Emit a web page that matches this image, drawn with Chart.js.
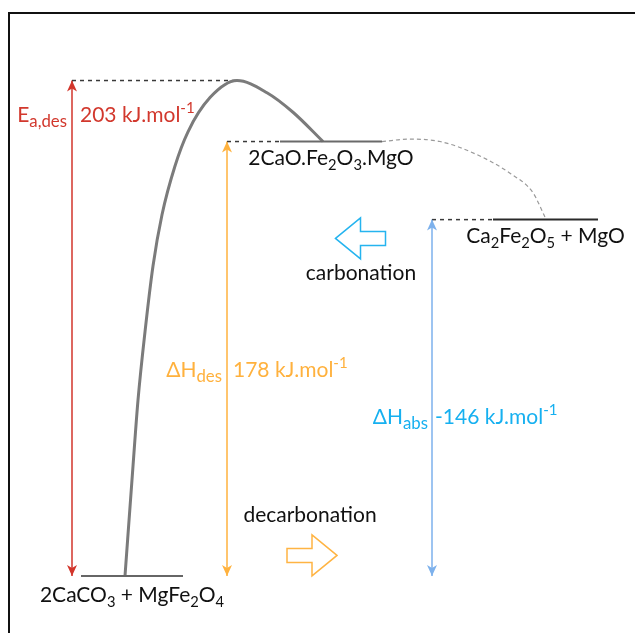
<!DOCTYPE html>
<html>
<head>
<meta charset="utf-8">
<script src="https://cdn.jsdelivr.net/npm/chart.js@4/dist/chart.umd.min.js"></script>
<style>
html, body { margin: 0; padding: 0; background: #fff; }
canvas { display: block; }
</style>
</head>
<body>
<canvas id="energy" width="635" height="633"></canvas>
<script>
// enthalpy levels, kJ/mol relative to 2CaCO3 + MgFe2O4
const levelNames = ["2CaCO3 + MgFe2O4", "2CaO.Fe2O3.MgO", "Ca2Fe2O5 + MgO"];
const levelEnergy = [0, 178, 146];
const levelFrom = [81, 280, 493];   // reaction coordinate
const levelTo = [183, 382, 598];
const levelColors = ["#666666", "#6a6a6a", "#2a2a2a"];

const activationEnergy = 203;
const deltaHdes = 178;
const deltaHabs = -146;

// decarbonation path over the barrier
const pathX = [125, 133, 138, 145, 153, 162, 175, 188, 210, 237, 267, 293, 323];
const pathE = [0, 45, 72, 100, 127, 148, 168, 182, 196, 203, 198, 190, 178];

// carbonation path back down to Ca2Fe2O5
const carbX = [382, 410, 440, 475, 510, 533, 545];
const carbE = [178, 179, 178, 173, 165, 157, 147];

// where the energy arrows stand on the reaction coordinate
const arrowX = [72, 227, 432];
const arrowTop = [activationEnergy, deltaHdes, Math.abs(deltaHabs)];
const arrowColors = ["#d2352b", "#ffb23e", "#7db1ec"];
const peakX = 237;

const FONT = "Lato, 'DejaVu Sans', sans-serif";
const SIZE = 21;

function pts(xs, ys) { return xs.map((x, i) => ({ x: x, y: ys[i] })); }

const datasets = [];
levelEnergy.forEach((e, i) => {
  datasets.push({
    data: [{ x: levelFrom[i], y: e }, { x: levelTo[i], y: e }],
    borderColor: levelColors[i], borderWidth: 2
  });
});
datasets.push({ data: pts(pathX, pathE), borderColor: "#7b7b7b", borderWidth: 3,
  cubicInterpolationMode: "monotone" });
datasets.push({ data: pts(carbX, carbE), borderColor: "#9a9a9a", borderWidth: 1.2,
  borderDash: [4, 3], cubicInterpolationMode: "monotone" });
// dashed guides from each arrow tip over to its level
const guideEnd = [peakX, levelFrom[1], levelFrom[2]];
arrowX.forEach((x, i) => {
  datasets.push({ data: [{ x: x, y: arrowTop[i] }, { x: guideEnd[i], y: arrowTop[i] }],
    borderColor: "#3a3a3a", borderWidth: 1.5, borderDash: [4, 4] });
});
// arrow shafts
arrowX.forEach((x, i) => {
  datasets.push({ data: [{ x: x, y: 0 }, { x: x, y: arrowTop[i] }],
    borderColor: arrowColors[i], borderWidth: 1.5 });
});

// split "Ca2Fe2O5" style formulas into normal / subscript runs
function formula(s) {
  const parts = [];
  for (let i = 0; i < s.length; i++) {
    const ch = s[i];
    const sub = /[0-9]/.test(ch) && i > 0 && /[A-Za-z]/.test(s[i - 1]);
    const mode = sub ? 1 : 0;
    if (parts.length && parts[parts.length - 1][1] === mode) parts[parts.length - 1][0] += ch;
    else parts.push([ch, mode]);
  }
  return parts;
}

function runSize(mode, size, small) {
  return mode ? size * small : size;
}

function drawRich(c, parts, x, y, size, color, align, small) {
  small = small || 0.7;
  let w = 0;
  parts.forEach(p => {
    c.font = runSize(p[1], size, small) + "px " + FONT;
    w += c.measureText(p[0]).width;
  });
  let cx = align === "right" ? x - w : align === "center" ? x - w / 2 : x;
  c.fillStyle = color;
  c.textBaseline = "alphabetic";
  c.textAlign = "left";
  parts.forEach(p => {
    c.font = runSize(p[1], size, small) + "px " + FONT;
    const dy = p[1] === 1 ? size * 0.26 : p[1] === 2 ? -size * 0.4 : 0;
    c.fillText(p[0], cx, y + dy);
    cx += c.measureText(p[0]).width;
  });
}

function arrowHead(c, x, y, dir, color) {
  c.fillStyle = color;
  c.beginPath();
  c.moveTo(x, y);
  c.lineTo(x - 5, y - dir * 11);
  c.lineTo(x, y - dir * 8);
  c.lineTo(x + 5, y - dir * 11);
  c.closePath();
  c.fill();
}

function blockArrow(c, cx, cy, dir, color) {
  // outlined fat arrow, dir = 1 points right, -1 points left
  const hw = 25, hh = 20.5, sh = 7, head = 25;
  const tip = cx + dir * hw, tail = cx - dir * hw, base = tip - dir * head;
  c.strokeStyle = color;
  c.lineWidth = 1.5;
  c.beginPath();
  c.moveTo(tip, cy);
  c.lineTo(base, cy - hh);
  c.lineTo(base, cy - sh);
  c.lineTo(tail, cy - sh);
  c.lineTo(tail, cy + sh);
  c.lineTo(base, cy + sh);
  c.lineTo(base, cy + hh);
  c.closePath();
  c.stroke();
}

const decorations = {
  id: "decorations",
  afterDatasetsDraw(chart) {
    const c = chart.ctx;
    const px = v => chart.scales.x.getPixelForValue(v);
    const py = v => chart.scales.y.getPixelForValue(v);
    c.save();

    // frame
    c.strokeStyle = "#111";
    c.lineWidth = 2;
    c.strokeRect(9, 13, 700, 700);

    // arrow heads on both ends
    arrowX.forEach((x, i) => {
      arrowHead(c, px(x), py(arrowTop[i]), -1, arrowColors[i]);
      arrowHead(c, px(x), py(0), 1, arrowColors[i]);
    });

    // level names, centred under each level
    const nameDrop = [26, 23, 23];
    levelNames.forEach((n, i) => {
      drawRich(c, formula(n), (px(levelFrom[i]) + px(levelTo[i])) / 2,
        py(levelEnergy[i]) + nameDrop[i], SIZE, "#111", "center", 0.7);
    });

    // activation energy
    const ax = px(arrowX[0]), aTop = py(activationEnergy);
    drawRich(c, [["E", 0], ["a,des", 1]], ax - 5, aTop + 41, SIZE, "#d2382d", "right", 0.8);
    drawRich(c, [[activationEnergy + " kJ.mol", 0], ["-1", 2]], ax + 8, aTop + 41, SIZE, "#d2382d", "left", 0.72);

    // desorption enthalpy
    const dx = px(arrowX[1]), dMid = (py(0) + py(deltaHdes)) / 2;
    drawRich(c, [["\u0394H", 0], ["des", 1]], dx - 5, dMid + 18, SIZE, "#ffb13d", "right", 0.8);
    drawRich(c, [[deltaHdes + " kJ.mol", 0], ["-1", 2]], dx + 6, dMid + 18, SIZE, "#ffb13d", "left", 0.72);

    // absorption enthalpy
    const bx = px(arrowX[2]), bMid = (py(0) + py(Math.abs(deltaHabs))) / 2;
    drawRich(c, [["\u0394H", 0], ["abs", 1]], bx - 4, bMid + 26, SIZE, "#16b0f0", "right", 0.8);
    drawRich(c, [[deltaHabs + " kJ.mol", 0], ["-1", 2]], bx + 3, bMid + 26, SIZE, "#16b0f0", "left", 0.72);

    // reaction direction markers
    blockArrow(c, px(360.5), py(138.3), -1, "#25b4ef");
    drawRich(c, [["carbonation", 0]], px(361), py(121.3), SIZE, "#111", "center");
    blockArrow(c, px(312), py(8.4), 1, "#ffb443");
    drawRich(c, [["decarbonation", 0]], px(310), py(22.1), SIZE, "#111", "center");

    c.restore();
  }
};

new Chart(document.getElementById("energy"), {
  type: "line",
  data: { datasets: datasets },
  options: {
    responsive: false,
    animation: false,
    layout: { padding: 0 },
    elements: { point: { radius: 0 }, line: { fill: false } },
    plugins: { legend: { display: false }, tooltip: { enabled: false } },
    scales: {
      x: { type: "linear", min: 0, max: 635, display: false },
      y: { type: "linear", min: -23.4, max: 236, display: false }
    }
  },
  plugins: [decorations]
});
</script>
</body>
</html>
